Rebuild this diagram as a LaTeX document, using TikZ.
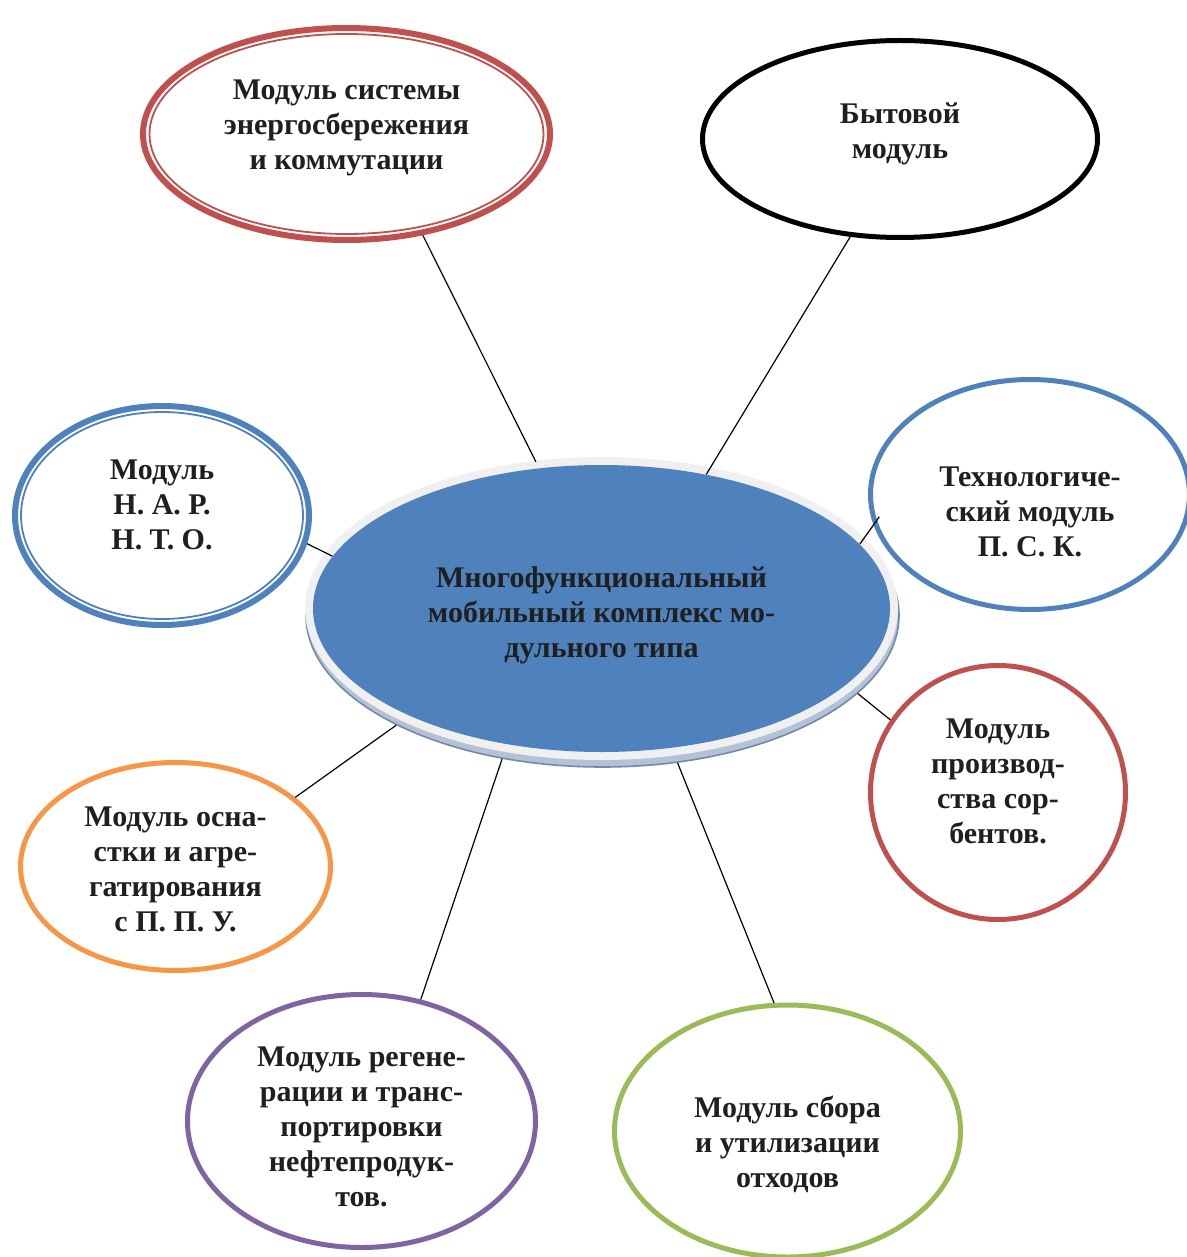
\documentclass[tikz,border=0pt]{standalone}
\usepackage{fontspec}
\setmainfont{Liberation Serif}
\usetikzlibrary{shapes.geometric}
\definecolor{modred}{HTML}{C0504D}
\definecolor{modblue}{HTML}{4F81BD}
\definecolor{modorange}{HTML}{F79646}
\definecolor{modpurple}{HTML}{8064A2}
\definecolor{modgreen}{HTML}{9BBB59}
\definecolor{bevel}{HTML}{B4C2D6}
\definecolor{bevelline}{HTML}{7489AA}

\begin{document}
\begin{tikzpicture}[x=0.5pt,y=-0.5pt,
    every node/.style={font=\bfseries\fontsize{15}{17.5}\selectfont,
      align=center, text=black!88},
    modbox/.style={ellipse, draw, line width=2.5pt, fill=white, inner sep=0pt},
    conn/.style={draw=black, line width=0.6pt}]
    \useasboundingbox (0,0) rectangle (1187,1257);

    % centre with its rim
    \coordinate (cc) at (601.5,608.5);
    \node[ellipse, draw=bevelline, fill=bevel, line width=0.8pt,
      minimum width=296.5pt, minimum height=151.5pt, inner sep=0pt]
      (rim) at ([shift={(1,7)}]cc) {};
    \node[ellipse, fill=modblue, preaction={draw=black!6, line width=8pt},
      minimum width=288.5pt, minimum height=143.5pt, inner sep=0pt] (cen) at (cc)
      {Многофункциональный\\мобильный комплекс мо-\\дульного типа\\[-21.5pt]};

    % modules
    \node[modbox, draw=modred, line width=3pt, minimum width=203.5pt,
      minimum height=106pt] (nrg) at (346.5,134)
      {Модуль системы\\энергосбережения\\и коммутации\\[-8.5pt]};
    \draw[modred, line width=0.9pt] (nrg.center)
      ellipse [x radius=98.5pt, y radius=50pt];
    \node[modbox, draw=black, minimum width=197.5pt, minimum height=98.5pt]
      (home) at (900,139) {Бытовой\\модуль\\[-9pt]};
    \node[modbox, draw=modblue, line width=3pt, minimum width=147pt,
      minimum height=109.5pt] (nar) at (162,515.5)
      {Модуль\\Н. А. Р.\\Н. Т. О.\\[-6.5pt]};
    \draw[modblue, line width=0.9pt] (nar.center)
      ellipse [x radius=70.5pt, y radius=51.75pt];
    \node[modbox, draw=modblue, minimum width=159.5pt, minimum height=115pt]
      (psk) at (1030,494.5) {Технологиче-\\ский модуль\\П. С. К.\\[-34.5pt]};
    \node[modbox, draw=modred, minimum width=127.5pt, minimum height=127pt]
      (sorb) at (998,792.5) {Модуль\\производ-\\ства сор-\\бентов.\\[-6.5pt]};
    \node[modbox, draw=modorange, minimum width=155pt, minimum height=104pt]
      (osn) at (175.5,866.5)
      {Модуль осна-\\стки и агре-\\гатирования\\с П. П. У.\\[-20.5pt]};
    \node[modbox, draw=modpurple, minimum width=174pt, minimum height=126.5pt]
      (regen) at (361.5,1121)
      {Модуль регене-\\рации и транс-\\портировки\\нефтепродук-\\тов.\\[-23.5pt]};
    \node[modbox, draw=modgreen, minimum width=173pt, minimum height=126pt]
      (waste) at (787.5,1131)
      {Модуль сбора\\и утилизации\\отходов\\[-28.5pt]};

    % links to the centre
    \path[conn]
      (nrg.-53.9) edge[shorten >=3.5pt] (cen.114.3)
      (home.243.7) edge (cen.52.3)
      (nar.-11.2) edge (cen.169.8)
      (psk.191.8) edge[shorten <=-5pt] (cen.14)
      (sorb.146.3) edge (rim.-17.8)
      (osn.30.3) edge (rim.208.2)
      (regen.64.9) edge (rim.235.2)
      (waste.96.2) edge (rim.-63.7);
\end{tikzpicture}
\end{document}
